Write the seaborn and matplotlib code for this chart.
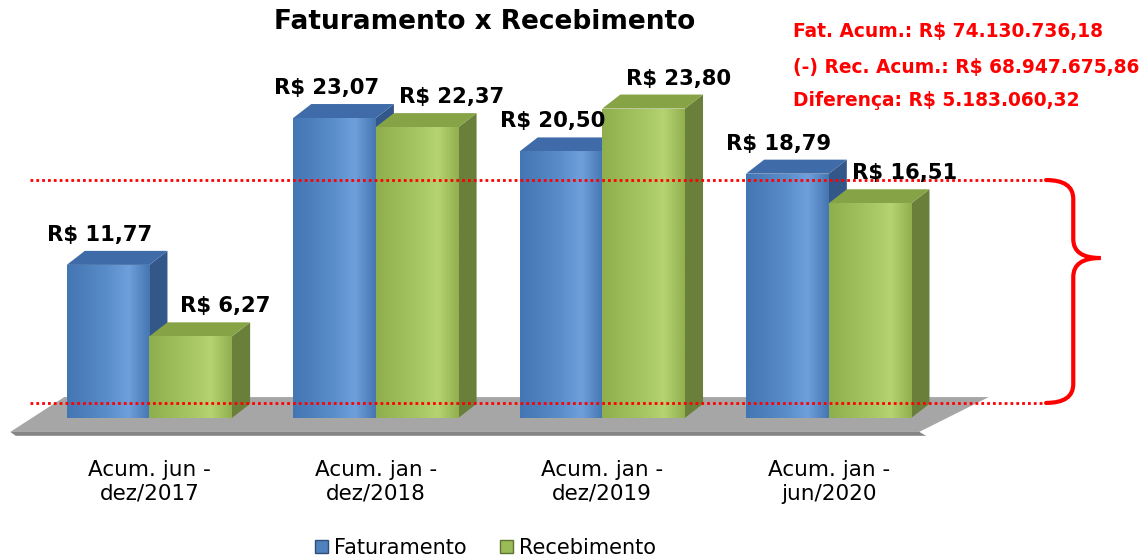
import numpy as np
import pandas as pd
import seaborn as sns
import matplotlib.pyplot as plt
from matplotlib.patches import Polygon, PathPatch, Patch
from matplotlib.path import Path
from matplotlib.colors import LinearSegmentedColormap

# dados (em milhoes de R$)
periodos = ['Acum. jun -\ndez/2017', 'Acum. jan -\ndez/2018',
            'Acum. jan -\ndez/2019', 'Acum. jan -\njun/2020']
faturamento = [11.77, 23.07, 20.50, 18.79]
recebimento = [6.27, 22.37, 23.80, 16.51]
series = ['Faturamento', 'Recebimento']
resumo = ['Fat. Acum.: R$ 74.130.736,18',
          '(-) Rec. Acum.: R$ 68.947.675,86',
          'Diferença: R$ 5.183.060,32']

df = pd.DataFrame({
    'periodo': periodos * 2,
    'serie': [series[0]] * len(periodos) + [series[1]] * len(periodos),
    'valor': faturamento + recebimento,
})

sns.set_style('white')
plt.rcParams['font.family'] = ['DejaVu Sans']
plt.rcParams['text.color'] = 'black'
plt.rcParams['xtick.color'] = 'black'

fig = plt.figure(figsize=(11.48, 5.6), dpi=100)
ax = fig.add_axes([0.0078, 0.219, 0.9922, 0.731])

cores = {'Faturamento': '#4F81BD', 'Recebimento': '#9BBB59'}
topo = {'Faturamento': '#3F6CA8', 'Recebimento': '#86A445'}
lado = {'Faturamento': '#34578A', 'Recebimento': '#6A7F3A'}
grad = {'Faturamento': ['#4376B3', '#4F81BD', '#5A8ECB', '#6FA0DC', '#4777B2'],
        'Recebimento': ['#8FAE4D', '#9BBB59', '#A6C663', '#B6D471', '#92B050']}

sns.barplot(data=df, x='periodo', y='valor', hue='serie', palette=cores,
            width=0.73, gap=0, saturation=1, ax=ax, legend=False, zorder=3,
            linewidth=0, edgecolor='none')

# piso cinza
piso = Polygon([(-0.614, -1.08), (3.40, -1.08), (3.707, 1.6), (-0.376, 1.6)],
               closed=True, facecolor='#A6A6A6', edgecolor='none', zorder=1)
borda = Polygon([(-0.614, -1.08), (3.40, -1.08), (3.43, -1.38), (-0.59, -1.38)],
                closed=True, facecolor='#858585', edgecolor='none', zorder=1)
ax.add_patch(piso)
ax.add_patch(borda)

# profundidade 3D
dx, dy = 0.08, 1.08
for cont, serie in zip(ax.containers, series):
    cmap = LinearSegmentedColormap.from_list(serie, grad[serie])
    for bar in cont:
        x0, h = bar.get_x(), bar.get_height()
        x1 = x0 + bar.get_width()
        ax.add_patch(Polygon([(x1, 0), (x1 + dx, dy), (x1 + dx, h + dy), (x1, h)],
                             facecolor=lado[serie], edgecolor='none', zorder=2))
        ax.add_patch(Polygon([(x0, h), (x0 + dx, h + dy), (x1 + dx, h + dy), (x1, h)],
                             facecolor=topo[serie], edgecolor='none', zorder=2))
        im = ax.imshow(np.linspace(0, 1, 64).reshape(1, -1), cmap=cmap,
                       extent=(x0, x1, 0, h), aspect='auto', zorder=3.1)
        im.set_clip_path(bar)

# rotulos de valor
desloc = {'Faturamento': -6, 'Recebimento': 25}
for cont, serie in zip(ax.containers, series):
    for bar in cont:
        h = bar.get_height()
        ax.annotate(f'R$ {h:.2f}'.replace('.', ','),
                    xy=(bar.get_x() + bar.get_width() / 2, h),
                    xytext=(desloc[serie], 21.6), textcoords='offset points',
                    ha='center', va='center', fontsize=15.2, fontweight='bold',
                    zorder=6)

# linhas pontilhadas e chave
y_sup, y_inf = 18.3, 1.15
ax.hlines([y_sup, y_inf], -0.526, 3.96, colors='red', linestyles=(0, (1, 1.1)),
          linewidth=2, zorder=5, clip_on=False)
xa, xb, xc, ytip, r = 3.96, 4.08, 4.20, 12.3, 1.45
verts = [(xa, y_sup), (xb, y_sup), (xb, y_sup - r),
         (xb, ytip + r), (xb, ytip), (xc, ytip),
         (xb, ytip), (xb, ytip - r),
         (xb, y_inf + r), (xb, y_inf), (xa, y_inf)]
codes = [Path.MOVETO, Path.CURVE3, Path.CURVE3,
         Path.LINETO, Path.CURVE3, Path.CURVE3,
         Path.CURVE3, Path.CURVE3,
         Path.LINETO, Path.CURVE3, Path.CURVE3]
ax.add_patch(PathPatch(Path(verts, codes), facecolor='none', edgecolor='red',
                       linewidth=3, capstyle='round', zorder=5, clip_on=False))

ax.set_xlim(-0.62, 4.41)
ax.set_ylim(-1.5, 30)
ax.set_yticks([])
ax.set_xlabel('')
ax.set_ylabel('')
ax.set_xticks(range(len(periodos)))
ax.set_xticklabels(periodos, fontsize=15.5, linespacing=1.25)
ax.tick_params(axis='x', length=0, pad=16)
sns.despine(ax=ax, left=True, bottom=True)

fig.text(0.4225, 0.96, 'Faturamento x Recebimento', ha='center', va='center',
         fontsize=19, fontweight='bold')
for txt, y in zip(resumo, [0.943, 0.880, 0.821]):
    fig.text(0.691, y, txt, ha='left', va='center', color='red',
             fontsize=13.4, fontweight='bold')

handles = [Patch(facecolor=cores[s], edgecolor='#2F4F7A' if i == 0 else '#5E7530')
           for i, s in enumerate(series)]
fig.legend(handles, series, loc='lower center', bbox_to_anchor=(0.423, -0.03),
           ncol=2, frameon=False, fontsize=15, handlelength=0.6,
           handleheight=0.6, handletextpad=0.3, columnspacing=1.6)

fig.savefig('out.png', dpi=100)
